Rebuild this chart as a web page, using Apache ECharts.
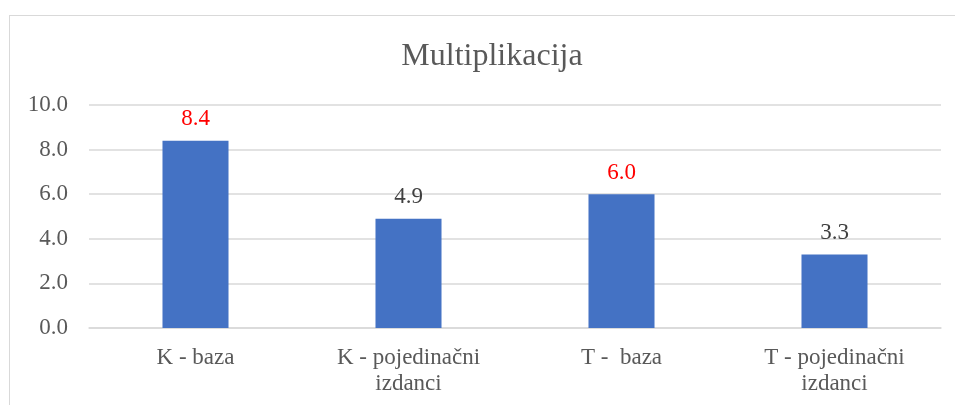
<!DOCTYPE html>
<html><head><meta charset="utf-8">
<script src="https://cdn.jsdelivr.net/npm/echarts@6/dist/echarts.min.js"></script>
<style>html,body{margin:0;padding:0;background:#fff;}
#c{width:955px;height:405px;position:relative;}
#frame{position:absolute;left:9px;top:15px;width:970px;height:420px;border:1px solid #D9D9D9;box-sizing:border-box;pointer-events:none;}
</style></head>
<body><div id="c"></div><div id="frame"></div>
<script>
const categories = ['K - baza', 'K - pojedinačni\nizdanci', 'T -  baza', 'T - pojedinačni\nizdanci'];
const values = [8.4, 4.9, 6.0, 3.3];
const labelColors = ['#FF0000', '#404040', '#FF0000', '#404040'];
const yTicks = [0, 2, 4, 6, 8, 10];
const font = '"Liberation Serif", "Times New Roman", serif';
const chart = echarts.init(document.getElementById('c'));
chart.setOption({
  animation: false,
  title: { text: 'Multiplikacija', left: 487, top: 36, textAlign: 'center',
    textStyle: { fontFamily: font, fontSize: 32, fontWeight: 'normal', color: '#595959' } },
  grid: { left: 89, right: 14, top: 105, bottom: 77 },
  xAxis: { type: 'category', data: categories,
    axisLine: { lineStyle: { color: '#D9D9D9', width: 1.5 } }, axisTick: { show: false },
    axisLabel: { fontFamily: font, fontSize: 23, color: '#595959', margin: 17, lineHeight: 26 } },
  yAxis: { type: 'value', min: yTicks[0], max: yTicks[yTicks.length-1], interval: 2,
    axisLine: { show: false }, axisTick: { show: false },
    splitLine: { lineStyle: { color: '#D9D9D9', width: 1.5 } },
    axisLabel: { fontFamily: font, fontSize: 23, color: '#595959', margin: 21, formatter: v => v.toFixed(1) } },
  series: [{ type: 'bar', barWidth: '31%',
    data: values.map((v, i) => ({ value: v, label: { color: labelColors[i] } })),
    itemStyle: { color: '#4472C4' },
    label: { show: true, position: 'top', distance: 10, fontFamily: font, fontSize: 23,
      formatter: p => p.value.toFixed(1) } }]
});
</script></body></html>
